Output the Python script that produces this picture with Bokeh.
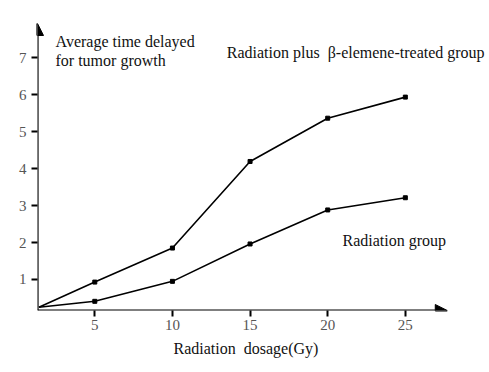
from bokeh.plotting import figure
from bokeh.models import Arrow, NormalHead, Label, Range1d, FixedTicker, Title
from bokeh.embed import file_html
from bokeh.resources import INLINE

# ---- data ----
dose = [1.4, 5, 10, 15, 20, 25]
combined = [0.25, 0.93, 1.85, 4.19, 5.36, 5.93]   # Radiation plus beta-elemene
radiation = [0.25, 0.41, 0.95, 1.96, 2.88, 3.21]  # Radiation group
x_ticks = [5, 10, 15, 20, 25]
y_ticks = [1, 2, 3, 4, 5, 6, 7]

X0, X1 = 1.31, 30.42
Y0, Y1 = 0.162, 8.19
X_ARROW, Y_ARROW = 27.7, 7.92

FONT = "Liberation Serif"

p = figure(width=489, height=372, output_backend="svg", toolbar_location=None,
           x_range=Range1d(X0, X1), y_range=Range1d(Y0, Y1),
           min_border_left=37, min_border_right=0, min_border_top=13,
           min_border_bottom=62)
p.outline_line_color = None
p.grid.visible = False
p.background_fill_color = "white"
p.border_fill_color = "white"

for ax, ticks in ((p.xaxis[0], x_ticks), (p.yaxis[0], y_ticks)):
    ax.ticker = FixedTicker(ticks=ticks)
    ax.axis_line_color = None
    ax.major_tick_line_color = "black"
    ax.major_tick_line_width = 2
    ax.major_tick_in = 0
    ax.major_tick_out = 6
    ax.minor_tick_line_color = None
    ax.major_label_text_font = FONT
    ax.major_label_text_font_size = "15px"
    ax.major_label_text_color = "#555555"
p.xaxis.major_label_standoff = 3
p.yaxis.major_label_standoff = 5

# axes as arrows
p.add_layout(Arrow(x_start=X0, y_start=Y0, x_end=X0, y_end=Y_ARROW,
                   line_width=2.2, line_color="black",
                   end=NormalHead(size=12, fill_color="black", line_color="black")))
p.add_layout(Arrow(x_start=X0, y_start=Y0, x_end=X_ARROW, y_end=Y0,
                   line_width=2.2, line_color="black",
                   end=NormalHead(size=12, fill_color="black", line_color="black")))

for ys in (combined, radiation):
    p.line(dose, ys, line_color="black", line_width=1.6)
    p.scatter(dose[1:], ys[1:], marker="square", size=4, fill_color="black",
              line_color="black")

def lab(x, y, t, align="left"):
    p.add_layout(Label(x=x, y=y, text=t, text_font=FONT, text_font_size="16px",
                       text_color="#111111", text_baseline="middle",
                       text_align=align))

lab(2.47, 7.43, "Average time delayed")
lab(2.47, 6.92, "for tumor growth")
lab(13.5, 7.14, "Radiation plus\u00a0 \u03b2-elemene-treated group")
lab(20.95, 2.05, "Radiation group")

xlabel = Title(text="Radiation\u00a0 dosage(Gy)", align="left", offset=136,
               text_font=FONT, text_font_size="16px", text_font_style="normal",
               text_color="#111111", standoff=11)
p.add_layout(xlabel, "below")

open("out.html", "w").write(file_html(p, INLINE))
